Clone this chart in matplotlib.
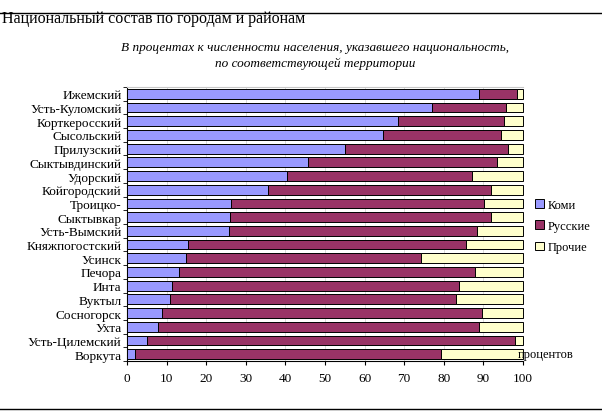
import matplotlib
matplotlib.use("Agg")
import matplotlib.pyplot as plt
import numpy as np

plt.rcParams["font.family"] = ["Liberation Serif", "DejaVu Serif"]

# top to bottom as in the picture
regions = ["Ижемский", "Усть-Куломский", "Корткеросский", "Сысольский",
           "Прилузский", "Сыктывдинский", "Удорский", "Койгородский",
           "Троицко-", "Сыктывкар", "Усть-Вымский", "Княжпогостский",
           "Усинск", "Печора", "Инта", "Вуктыл", "Сосногорск", "Ухта",
           "Усть-Цилемский", "Воркута"]
komi = [88.9, 76.9, 68.5, 64.7, 55.1, 45.8, 40.4, 35.7, 26.3, 26.0, 25.8,
        15.5, 15.0, 13.2, 11.4, 10.9, 8.9, 7.9, 5.1, 1.9]
russian = [9.6, 18.9, 26.8, 29.8, 41.2, 47.7, 46.6, 56.1, 63.9, 66.0, 62.7,
           70.2, 59.3, 74.8, 72.5, 72.3, 80.8, 81.1, 93.0, 77.5]
other = [100 - k - r for k, r in zip(komi, russian)]

series = [("Коми", komi, "#9999FF"),
          ("Русские", russian, "#993366"),
          ("Прочие", other, "#FFFFCC")]

fig = plt.figure(figsize=(6.02, 4.14), dpi=100)
ax = fig.add_axes([127 / 602, 1 - 362 / 414, 396 / 602, 274 / 414])

y = np.arange(len(regions))[::-1]
left = np.zeros(len(regions))
for name, vals, col in series:
    ax.barh(y, vals, left=left, height=0.72, color=col, edgecolor="black",
            linewidth=0.7, label=name, zorder=3, clip_on=False)
    left += np.array(vals)

ax.set_xlim(0, 100)
ax.set_ylim(-0.5, len(regions) - 0.5)
ax.set_xticks(range(0, 101, 10))
ax.set_yticks(y)
ax.set_yticklabels(regions, fontsize=9.5)
ax.set_yticks(np.arange(-0.5, len(regions), 1), minor=True)
ax.tick_params(axis="y", which="major", length=0, pad=4)
ax.tick_params(axis="y", which="minor", length=3, direction="out")
ax.tick_params(axis="x", labelsize=9.5, length=3, direction="out", pad=5)
ax.grid(axis="x", color="#D4D4D4", linewidth=0.6, zorder=0)
ax.spines["right"].set_visible(False)
ax.spines["top"].set_color("#C8C8C8")
ax.spines["left"].set_linewidth(0.8)
ax.spines["bottom"].set_linewidth(0.8)

ax.text(98.8, -0.45, "процентов", fontsize=9, va="bottom", ha="left",
        transform=ax.transData, zorder=5)

ax.legend(loc="center left", bbox_to_anchor=(524 / 602, 1 - 227 / 414),
          bbox_transform=fig.transFigure, frameon=False, fontsize=9,
          handlelength=0.7, handleheight=0.7, handletextpad=0.3,
          labelspacing=0.75)

fig.add_artist(plt.Line2D([0, 1], [1 - 14 / 414] * 2, color="black",
                          linewidth=1, transform=fig.transFigure))
fig.add_artist(plt.Line2D([0, 1], [1 - 410 / 414] * 2, color="black",
                          linewidth=1, transform=fig.transFigure))
fig.text(2 / 602, 1 - 19 / 414, "Национальный состав по городам и районам",
         fontsize=11.5, va="center", ha="left")
fig.text(315 / 602, 1 - 48 / 414,
         "В процентах к численности населения, указавшего национальность,",
         fontsize=9.5, style="italic", ha="center", va="center")
fig.text(315 / 602, 1 - 64 / 414, "по соответствующей территории",
         fontsize=9.5, style="italic", ha="center", va="center")

fig.savefig("out.png", dpi=100)
